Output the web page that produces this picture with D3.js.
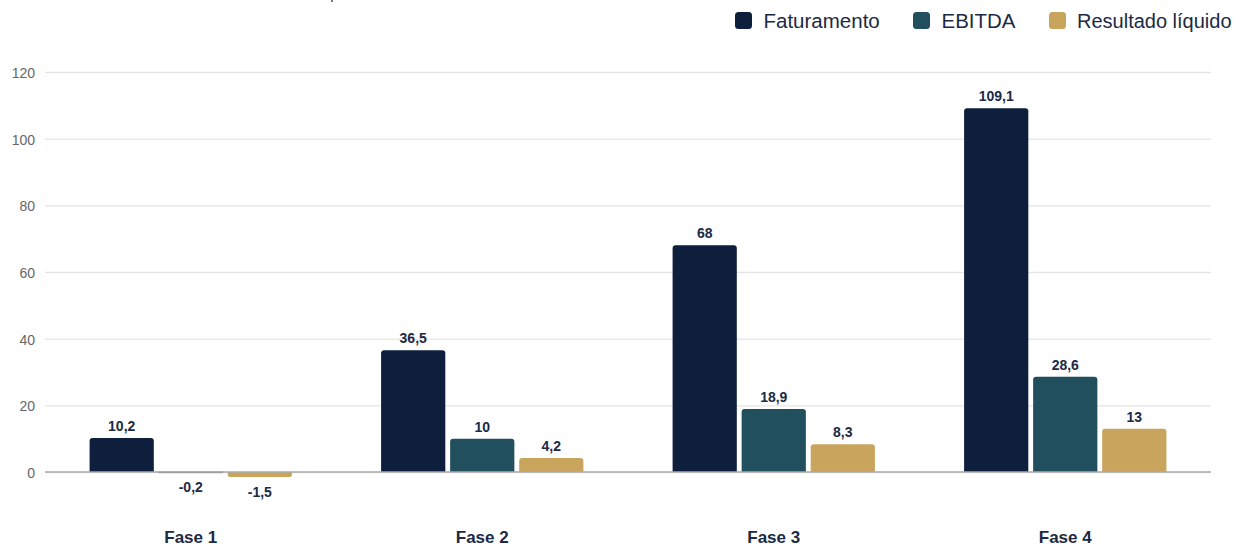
<!DOCTYPE html>
<html>
<head>
<meta charset="utf-8">
<script src="https://cdn.jsdelivr.net/npm/d3@7"></script>
<style>
	body	{ margin:0; background:#fff; font-family:"Liberation Sans", Arial, sans-serif; }
	svg	{ display:block; }
</style>
</head>
<body>
<div id="chart"></div>
<script>
var fases	= ["Fase 1", "Fase 2", "Fase 3", "Fase 4"];
var series	= ["Faturamento", "EBITDA", "Resultado líquido"];
var faturamento	= [10.2, 36.5, 68, 109.1];
var ebitda	= [-0.2, 10, 18.9, 28.6];
var resultado	= [-1.5, 4.2, 8.3, 13];
var yTicks	= [0, 20, 40, 60, 80, 100, 120];
var colors	= ["#0d1f3c", "#214f5e", "#c9a45c"];

var W = 1250, H = 546;
var m = { top:72, right:39, bottom:74, left:45 };
var svg = d3.select('#chart').append('svg').attr('width', W).attr('height', H);

var x = d3.scaleBand().domain(fases).range([m.left, W-m.right]).paddingInner(0.306).paddingOuter(0.153);
var xs = d3.scaleBand().domain(series).range([0, x.bandwidth()]).paddingInner(0.07);
var y = d3.scaleLinear().domain([0, 120]).range([H-m.bottom, m.top]);

// grid + y labels
var ya = svg.append('g').attr('transform', 'translate('+m.left+',0)')
	.call(d3.axisLeft(y).tickValues(yTicks).tickSize(-(W-m.left-m.right)).tickPadding(10).tickFormat(d3.format('d')));
ya.select('.domain').remove();
ya.selectAll('.tick line').attr('stroke', '#e5e5e5').attr('stroke-width', 1.3);
ya.selectAll('.tick text').attr('fill', '#666').attr('dy', '0.4em').style('font-size', '14px').style('font-family', '"Liberation Sans", Arial, sans-serif');

var data = fases.map(function(f, i) {
	return [faturamento[i], ebitda[i], resultado[i]].map(function(v, j) { return { fase:f, key:series[j], value:v, idx:j }; });
});

function barPath(d) {
	var x0 = x(d.fase)+xs(d.key), w = xs.bandwidth(), r = 3;
	var y0 = y(0), y1 = y(d.value), h = Math.abs(y1-y0);
	r = Math.min(r, h/2, w/2);
	if (d.value >= 0)
		return 'M'+x0+','+y0+'V'+(y1+r)+'Q'+x0+','+y1+' '+(x0+r)+','+y1+'H'+(x0+w-r)+'Q'+(x0+w)+','+y1+' '+(x0+w)+','+(y1+r)+'V'+y0+'Z';
	return 'M'+x0+','+y0+'V'+(y1-r)+'Q'+x0+','+y1+' '+(x0+r)+','+y1+'H'+(x0+w-r)+'Q'+(x0+w)+','+y1+' '+(x0+w)+','+(y1-r)+'V'+y0+'Z';
}

var g = svg.append('g');
g.selectAll('g.fase').data(data).enter().append('g').attr('class', 'fase').each(function(d) {
	var sel = d3.select(this);
	sel.selectAll('path').data(d).enter().append('path')
		.attr('d', barPath)
		.attr('fill', function(e) { return colors[e.idx]; })
		.attr('stroke', function(e) { return e.value < 0 && e.value > -0.5 ? '#6b8796' : 'none'; })
		.attr('stroke-width', 1);
	sel.selectAll('text').data(d).enter().append('text')
		.attr('x', function(e) { return x(e.fase)+xs(e.key)+xs.bandwidth()/2; })
		.attr('y', function(e) { return e.value >= 0 ? y(e.value)-7 : y(e.value)+19.5; })
		.attr('text-anchor', 'middle')
		.attr('fill', '#1b2a45')
		.style('font-size', '14px').style('font-weight', 'bold')
		.text(function(e) { return String(e.value).replace('.', ','); });
});

// zero line
svg.append('line').attr('x1', m.left).attr('x2', W-m.right).attr('y1', y(0)).attr('y2', y(0))
	.attr('stroke', '#aaa').attr('stroke-width', 1.3);

// category labels
svg.selectAll('text.cat').data(fases).enter().append('text').attr('class', 'cat')
	.attr('x', function(d) { return x(d)+x.bandwidth()/2; })
	.attr('y', 543).attr('text-anchor', 'middle')
	.attr('fill', '#1b2a45').style('font-size', '17px').style('font-weight', 'bold')
	.text(function(d) { return d; });

// legend
var legX = [735, 913, 1049];
var lg = svg.selectAll('g.leg').data(series).enter().append('g').attr('class', 'leg')
	.attr('transform', function(d, i) { return 'translate('+legX[i]+',12)'; });
lg.append('rect').attr('width', 17).attr('height', 17).attr('rx', 3.5).attr('fill', function(d, i) { return colors[i]; });
lg.append('text').attr('x', function(d, i) { return i==2 ? 28 : 28.5; }).attr('y', 15.5).attr('fill', '#1b2a45')
	.style('font-size', function(d, i) { return i==2 ? '20px' : '20.5px'; }).text(function(d) { return d; });

// cut-off title remnant at top
svg.append('rect').attr('x', 331).attr('y', 0).attr('width', 2).attr('height', 2).attr('fill', '#6b7a8c');
</script>
</body>
</html>
